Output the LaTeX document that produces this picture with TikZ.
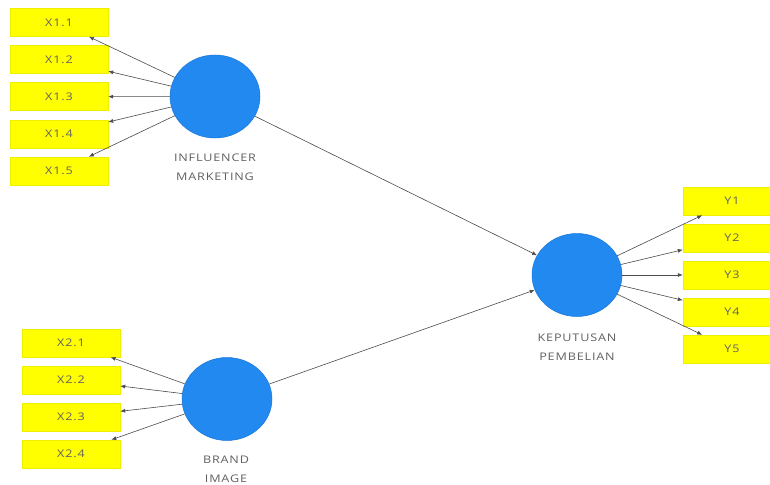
\documentclass[tikz,border=0pt]{standalone}
\usepackage{fontspec}
\setmainfont{Open Sans}[FakeStretch=1.2,LetterSpace=8]
\usetikzlibrary{arrows.meta,shapes.geometric}
\definecolor{lvblue}{RGB}{33,137,239}
\definecolor{lvedge}{RGB}{28,118,215}
\definecolor{indyellow}{RGB}{255,255,0}
\definecolor{indedge}{RGB}{238,238,0}
\tikzset{
  ind/.style={rectangle,minimum width=98pt,minimum height=28pt,inner sep=0pt,
    fill=indyellow,draw=indedge,line width=0.4pt,text=black!62,
    font=\fontsize{10.5}{12}\selectfont},
  latent/.style={ellipse,minimum width=90pt,minimum height=83pt,inner sep=0pt,
    fill=lvblue,draw=lvedge,line width=0.5pt},
  lvlabel/.style={align=center,text=black!62,inner sep=0pt,
    font=\fontsize{10.5}{19}\selectfont},
  arr/.style={draw=black!70,line width=0.6pt,-{Latex[length=5pt,width=4pt]}}
}
\begin{document}
\begin{tikzpicture}[x=1pt,y=-1pt]
\useasboundingbox (0,0) rectangle (770,484);
\clip (0,0) rectangle (770,484);
\fill[white] (0,0) rectangle (770,484);
% indicators X1
\node[ind] (x11) at (59,22.5) {X1.1};
\node[ind] (x12) at (59,59.6) {X1.2};
\node[ind] (x13) at (59,96.7) {X1.3};
\node[ind] (x14) at (59,133.8) {X1.4};
\node[ind] (x15) at (59,170.9) {X1.5};
% indicators X2
\node[ind] (x21) at (71,343) {X2.1};
\node[ind] (x22) at (71,380) {X2.2};
\node[ind] (x23) at (71,417) {X2.3};
\node[ind] (x24) at (71,454) {X2.4};
% indicators Y
\node[ind] (y1) at (732,201) {Y1};
\node[ind] (y2) at (732,238) {Y2};
\node[ind] (y3) at (732,275) {Y3};
\node[ind] (y4) at (732,312) {Y4};
\node[ind] (y5) at (732,349) {Y5};
% latent variables
\node[latent] (im) at (215,96.5) {};
\node[latent] (bi) at (227,399) {};
\node[latent] (kp) at (577,275) {};
% labels
\node[lvlabel] (imlab) at (215,167.5) {INFLUENCER\\MARKETING};
\node[lvlabel] (bilab) at (226,469.5) {BRAND\\IMAGE};
\node[lvlabel] (kplab) at (577,347) {KEPUTUSAN\\PEMBELIAN};
% outer loadings
\foreach \t in {x11,x12,x13,x14,x15} \draw[arr] (im) -- (\t);
\foreach \t in {x21,x22,x23,x24} \draw[arr] (bi) -- (\t);
\foreach \t in {y1,y2,y3,y4,y5} \draw[arr] (kp) -- (\t);
% structural paths
\draw[arr] (im) -- (kp);
\draw[arr] (bi) -- (kp);
\end{tikzpicture}
\end{document}
